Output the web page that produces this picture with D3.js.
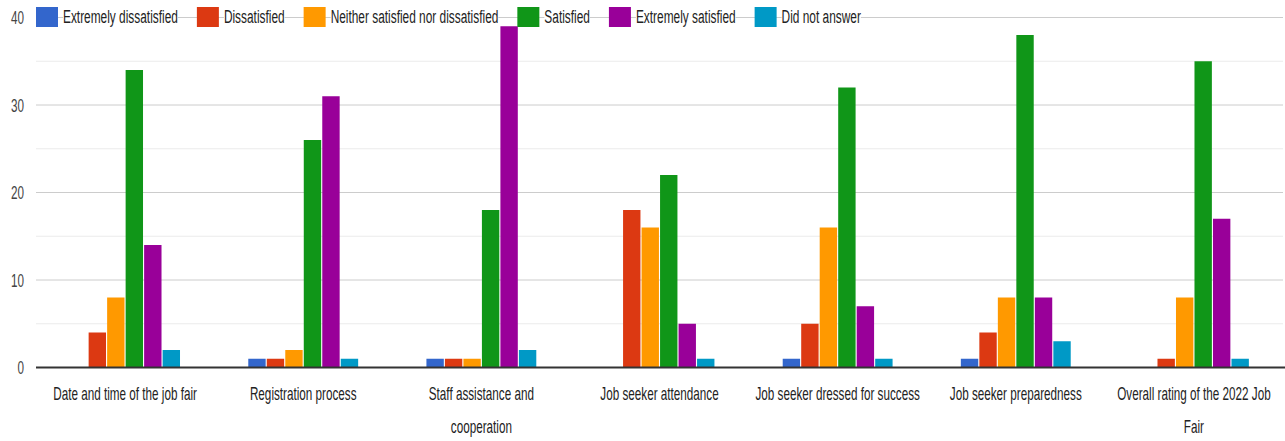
<!DOCTYPE html>
<html>
<head>
<meta charset="utf-8">
<script src="https://cdn.jsdelivr.net/npm/d3@7"></script>
<style>
  html, body { margin: 0; padding: 0; background: #fff; }
  svg { display: block; }
  text { font-family: "Liberation Sans", Arial, sans-serif; }
</style>
</head>
<body>
<svg id="chart" width="1285" height="441"></svg>
<script>
// ---- data ----
const categories = [
  "Date and time of the job fair",
  "Registration process",
  "Staff assistance and cooperation",
  "Job seeker attendance",
  "Job seeker dressed for success",
  "Job seeker preparedness",
  "Overall rating of the 2022 Job Fair"
];
const categoryLines = [
  ["Date and time of the job fair"],
  ["Registration process"],
  ["Staff assistance and", "cooperation"],
  ["Job seeker attendance"],
  ["Job seeker dressed for success"],
  ["Job seeker preparedness"],
  ["Overall rating of the 2022 Job", "Fair"]
];
const seriesNames = [
  "Extremely dissatisfied",
  "Dissatisfied",
  "Neither satisfied nor dissatisfied",
  "Satisfied",
  "Extremely satisfied",
  "Did not answer"
];
const extremelyDissatisfied = [0, 1, 1, 0, 1, 1, 0];
const dissatisfied          = [4, 1, 1, 18, 5, 4, 1];
const neither               = [8, 2, 1, 16, 16, 8, 8];
const satisfied             = [34, 26, 18, 22, 32, 38, 35];
const extremelySatisfied    = [14, 31, 39, 5, 7, 8, 17];
const didNotAnswer          = [2, 1, 2, 1, 1, 3, 1];
const seriesValues = [extremelyDissatisfied, dissatisfied, neither, satisfied, extremelySatisfied, didNotAnswer];
const colors = ["#3366cc", "#dc3912", "#ff9900", "#109618", "#990099", "#0099c6"];
const yTicks = [0, 10, 20, 30, 40];
const yMinorTicks = [5, 15, 25, 35];

// ---- layout ----
const svg = d3.select("#chart");
const X0 = 36, X1 = 1283, Y0 = 367.5, Y1 = 17.5;
const SX = 0.65;  // horizontal squeeze of axis text
const LSX = 0.66; // horizontal squeeze of legend text
const FS = 18;

const x0 = d3.scaleBand().domain(categories).range([X0, X1]).paddingInner(0.377).paddingOuter(0.1885);
const x1 = d3.scaleBand().domain(seriesNames).range([0, x0.bandwidth()]).paddingInner(0.06).paddingOuter(0.03);
const y = d3.scaleLinear().domain([0, 40]).range([Y0, Y1]);

// gridlines
svg.append("g").selectAll("line").data(yMinorTicks).join("line")
  .attr("x1", X0).attr("x2", X1)
  .attr("y1", d => y(d)).attr("y2", d => y(d))
  .attr("stroke", "#ebebeb").attr("stroke-width", 1);
svg.append("g").selectAll("line").data(yTicks.filter(d => d !== 0)).join("line")
  .attr("x1", X0).attr("x2", X1)
  .attr("y1", d => y(d)).attr("y2", d => y(d))
  .attr("stroke", "#cccccc").attr("stroke-width", 1);

// y tick labels
svg.append("g").selectAll("text").data(yTicks).join("text")
  .attr("transform", d => `translate(24,${y(d)}) scale(${SX},1)`)
  .attr("text-anchor", "end")
  .attr("dominant-baseline", "central")
  .attr("font-size", FS)
  .attr("fill", "#444")
  .text(d => d);

// bars
const groups = svg.append("g").selectAll("g").data(categories).join("g")
  .attr("transform", d => `translate(${x0(d)},0)`);
groups.selectAll("rect")
  .data((c, ci) => seriesNames.map((s, si) => ({ s, si, v: seriesValues[si][ci] })).filter(d => d.v > 0))
  .join("rect")
  .attr("x", d => x1(d.s))
  .attr("width", x1.bandwidth())
  .attr("y", d => y(d.v))
  .attr("height", d => y(0) - y(d.v))
  .attr("fill", d => colors[d.si]);

// baseline
svg.append("line")
  .attr("x1", X0).attr("x2", 1285)
  .attr("y1", y(0)).attr("y2", y(0))
  .attr("stroke", "#333").attr("stroke-width", 2);

// x labels
categories.forEach((c, i) => {
  const cx = x0(c) + x0.bandwidth() / 2;
  categoryLines[i].forEach((line, li) => {
    svg.append("text")
      .attr("transform", `translate(${cx},${400 + li * 33}) scale(${SX},1)`)
      .attr("text-anchor", "middle")
      .attr("font-size", FS)
      .attr("fill", "#222")
      .text(line);
  });
});

// legend (drawn over the top gridline)
const leg = svg.append("g");
let lx = 36;
const boxW = 22, boxH = 20, ly = 17;
seriesNames.forEach((name, i) => {
  leg.append("rect").attr("x", lx).attr("y", ly - boxH / 2).attr("width", boxW).attr("height", boxH)
    .attr("fill", colors[i]);
  const tx = lx + boxW + 5;
  const bg = leg.append("rect").attr("fill", "#fff");
  const t = leg.append("text")
    .attr("transform", `translate(${tx},${ly}) scale(${LSX},1)`)
    .attr("dominant-baseline", "central")
    .attr("font-size", FS)
    .attr("fill", "#222")
    .text(name);
  const w = t.node().getComputedTextLength() * LSX;
  bg.attr("x", tx).attr("y", ly - 9).attr("width", w).attr("height", 18);
  lx = tx + w + 19;
});
</script>
</body>
</html>
